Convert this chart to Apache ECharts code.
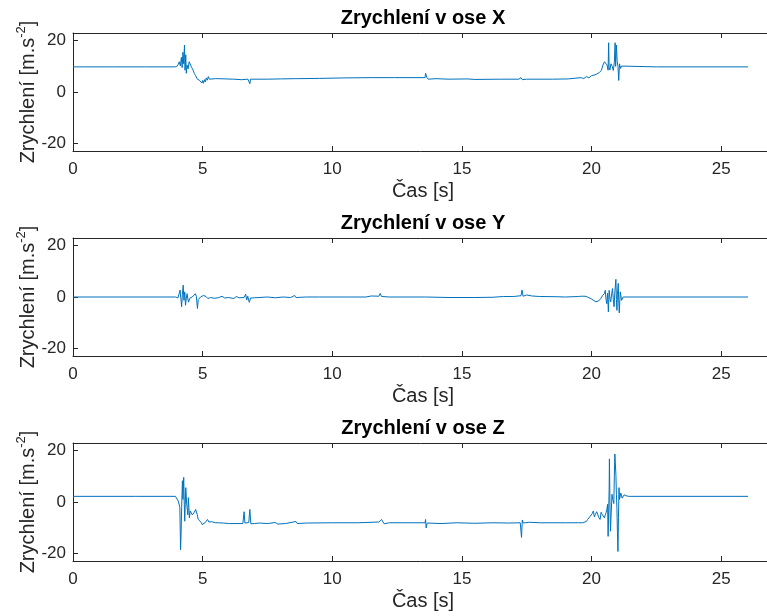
<!DOCTYPE html>
<html>
<head>
<meta charset="utf-8">
<script src="https://cdn.jsdelivr.net/npm/echarts@6/dist/echarts.min.js"></script>
<style>
  html, body { margin: 0; padding: 0; background: #fff; }
  #chart { width: 767px; height: 616px; }
</style>
</head>
<body>
<div id="chart"></div>
<script>
// time [s], acceleration [m.s^-2]
const accX = [
  [0, 9.8], [0.4, 9.8], [0.45, 9.5], [0.5, 9.8], [1.5, 9.8], [1.55, 9.5], [1.6, 9.8], [2.7, 9.8], [2.75, 9.6], [2.8, 9.8],
  [3.9, 9.8], [4.0, 9.9], [4.06, 10.8], [4.1, 11.8], [4.14, 10.2], [4.18, 13.5], [4.21, 9.5], [4.24, 15.5], [4.27, 11],
  [4.3, 18.3], [4.32, 8.5], [4.35, 14.5], [4.37, 7.3], [4.4, 10.5], [4.44, 9], [4.48, 11.8], [4.53, 11.2], [4.58, 9.5],
  [4.63, 8.6], [4.68, 7.2], [4.73, 6.4], [4.78, 5.2], [4.83, 5.6], [4.87, 4.6], [4.92, 4.2], [4.97, 3.5], [5.0, 4.5],
  [5.03, 3.4], [5.07, 4.8], [5.1, 3.9], [5.14, 5.5], [5.18, 4.6], [5.22, 6.0], [5.26, 5.0], [5.5, 5.2], [5.55, 4.8],
  [5.6, 5.2], [6.2, 5.0], [6.5, 4.8], [6.75, 5.0], [6.78, 5.6], [6.82, 3.2], [6.85, 5.0], [7.5, 5.0], [8.0, 5.1],
  [8.55, 5.2], [8.6, 4.7], [8.65, 5.2], [9.5, 5.3], [10.5, 5.5], [11.5, 5.6], [12.3, 5.6], [12.35, 5.2], [12.4, 5.6],
  [13.58, 5.6], [13.6, 7.3], [13.64, 5.8], [13.7, 5.0], [14.0, 5.2], [14.5, 5.0], [15.2, 5.1], [15.5, 4.9], [16.5, 5.0],
  [17.2, 5.0], [17.28, 5.6], [17.33, 4.8], [17.4, 5.4], [17.5, 5.0], [18.5, 5.0], [19.1, 5.1], [19.4, 5.4], [19.6, 5.6],
  [19.7, 5.2], [19.8, 6.0], [19.9, 5.5], [20.0, 6.4], [20.1, 6.6], [20.2, 7.0], [20.3, 7.6], [20.38, 8.4], [20.44, 10.5],
  [20.5, 11.8], [20.56, 11.2], [20.6, 10.5], [20.64, 8.5], [20.66, 19.2], [20.68, 9.5], [20.71, 8.6], [20.75, 11],
  [20.8, 10], [20.84, 8.4], [20.88, 11.5], [20.91, 19.2], [20.93, 10], [20.96, 18.3], [20.99, 12], [21.02, 10],
  [21.05, 4.5], [21.08, 11], [21.12, 9.2], [21.16, 10.1], [21.2, 9.8], [22.5, 9.8], [22.55, 9.5], [22.6, 9.8], [26.04, 9.8]
];

const accY = [
  [0, 0], [3.95, 0], [4.0, 0.6], [4.05, -0.3], [4.1, 1.5], [4.13, 2.7], [4.16, -0.5], [4.19, -3.8], [4.22, 1], [4.25, 4.6],
  [4.28, -1.3], [4.31, 2], [4.34, -3.2], [4.37, -0.5], [4.4, 1.3], [4.43, -0.8], [4.46, -2], [4.5, -0.5], [4.55, -0.6],
  [4.6, 0], [4.66, 0.3], [4.72, 1.3], [4.76, 0.2], [4.8, -4.5], [4.83, -1], [4.87, -0.6], [4.92, 0], [4.97, 0.2],
  [5.03, 0.6], [5.08, 1], [5.13, 0.2], [5.2, -0.6], [5.3, -0.2], [5.45, -0.5], [5.6, -0.3], [5.75, 0.3], [5.85, -0.4],
  [6.0, -0.2], [6.2, -0.6], [6.3, 0.2], [6.4, -0.3], [6.6, -0.2], [6.66, 1.1], [6.7, -1.2], [6.74, 0.3], [6.8, -2.1],
  [6.85, -0.4], [7.0, -0.3], [7.5, 0], [7.8, -0.3], [8.1, 0], [8.4, -0.2], [8.55, 0.6], [8.6, -0.2], [9.0, 0], [9.5, 0],
  [10.5, 0], [11.3, 0], [11.5, 0.4], [11.8, 0.3], [11.85, 1.4], [11.9, 0.2], [12.2, 0], [13.0, 0], [13.6, 0],
  [13.65, -0.4], [14.5, -0.2], [15.5, -0.2], [16.2, -0.1], [16.6, 0.2], [17.0, 0.2], [17.28, 0.5], [17.32, 2.7],
  [17.36, 0.3], [17.5, 0.8], [17.7, 0.4], [18.0, 0.2], [18.7, 0.1], [19.0, 0], [19.5, 0.2], [19.6, 0.3], [19.66, 0.6],
  [19.75, 0.3], [19.85, 0], [20.0, -0.8], [20.17, -1.9], [20.28, -1.5], [20.36, -0.5], [20.43, 0.6], [20.5, 1.4],
  [20.53, 2.6], [20.56, -1], [20.59, -2.6], [20.62, 1.5], [20.65, -5.8], [20.68, 2.6], [20.71, -0.5], [20.74, -1.9],
  [20.78, 1.5], [20.81, 3.3], [20.84, -1], [20.87, -3.8], [20.9, 2], [20.94, 6.9], [20.96, -1], [20.98, -5.2], [21.0, 1],
  [21.03, 5.3], [21.05, -1.5], [21.07, -6.2], [21.09, -2], [21.11, 2], [21.16, -1.3], [21.22, 0], [26.04, 0]
];

const accZ = [
  [0, 2.2], [2.4, 2.2], [2.45, 1.8], [2.5, 2.2], [3.95, 2.2], [4.0, 2.0], [4.06, 0.4], [4.1, -0.2], [4.12, -2],
  [4.15, -18.6], [4.17, -12], [4.19, -2.2], [4.22, 8.3], [4.24, 1], [4.27, 9.6], [4.29, 0], [4.31, -7.5], [4.33, -1],
  [4.35, 5.6], [4.38, 0], [4.4, -2.2], [4.43, -5], [4.45, 1.7], [4.49, -6.2], [4.52, -3.5], [4.55, -4.2], [4.6, -5],
  [4.64, -5.5], [4.68, -4], [4.73, -2.9], [4.76, -3.5], [4.79, -4.8], [4.83, -6.8], [4.87, -6.2], [4.9, -7.5],
  [4.95, -8], [4.98, -8.8], [5.03, -8.4], [5.09, -8.1], [5.14, -7.5], [5.19, -6.8], [5.24, -7.8], [5.28, -7.2],
  [5.35, -7.7], [5.41, -7.5], [5.5, -8.1], [5.6, -8.1], [5.8, -8.2], [6.0, -8.4], [6.55, -8.4], [6.6, -3.8],
  [6.63, -8.2], [6.7, -8.6], [6.78, -8.0], [6.82, -2.9], [6.86, -8.5], [7.0, -8.4], [7.2, -8.2], [7.5, -8.4],
  [7.8, -8.0], [7.9, -8.6], [8.2, -8.4], [8.6, -7.6], [8.65, -8.4], [9.0, -8.2], [10, -8.1], [11, -8.1], [11.8, -7.8],
  [11.9, -6.8], [12.0, -8.5], [12.2, -8.1], [13.0, -8.1], [13.58, -8.1], [13.6, -6.8], [13.62, -10.1], [13.66, -8.2],
  [14.2, -8.4], [14.8, -8.1], [15.5, -8.3], [16.2, -8.1], [16.8, -8.2], [17.25, -8.1], [17.3, -13.8], [17.33, -7.0],
  [17.37, -8.2], [17.6, -7.9], [18.0, -8.1], [19.0, -8.1], [19.5, -8.1], [19.66, -8.1], [19.72, -8.8], [19.8, -7.6],
  [19.85, -6.8], [19.93, -5.8], [19.98, -5.5], [20.03, -4.5], [20.07, -3.5], [20.11, -5.8], [20.15, -4.8], [20.2, -3.8],
  [20.24, -4.2], [20.28, -6], [20.33, -6.8], [20.37, -4], [20.41, -4.8], [20.46, -4.4], [20.5, -6.2], [20.53, -5],
  [20.56, -4.2], [20.59, -3], [20.62, -0.9], [20.64, -13.4], [20.66, -12.7], [20.68, 5], [20.69, 16.8], [20.71, 0],
  [20.73, -11.4], [20.76, -4], [20.79, 3], [20.82, 1], [20.86, -0.6], [20.88, 10], [20.9, 18.7], [20.92, 19.4],
  [20.94, 10.9], [20.96, 3], [20.98, -2.6], [21.0, -12], [21.02, -19.3], [21.04, -6], [21.06, 5.6], [21.08, 1],
  [21.1, 0.4], [21.13, 3.5], [21.15, 3], [21.18, 1.5], [21.21, 1.7], [21.26, 2.8], [21.34, 2.4], [21.45, 2.2], [26.04, 2.2]
];

const panelTitles = ['Zrychlení v ose X', 'Zrychlení v ose Y', 'Zrychlení v ose Z'];
const xTicks = [0, 5, 10, 15, 20, 25];
const yTicks = [-20, 0, 20];

const lineColor = '#0072bd';
const axisColor = '#262626';
const font = 'Liberation Sans';
const gridTops = [33, 238, 443];
const gridHeight = 118;

const chart = echarts.init(document.getElementById('chart'), null, { renderer: 'canvas' });

const series = [accX, accY, accZ];
const grids = [];
const titles = [];
const xAxes = [];
const yAxes = [];

gridTops.forEach((top, i) => {
  // the plot box runs a few pixels past the right edge, so no auto fitting
  grids.push({ left: 73, right: -6, top, height: gridHeight, outerBoundsMode: 'none', containLabel: false });
  titles.push({
    text: panelTitles[i],
    left: 423,
    top: top - 25,
    padding: 0,
    textAlign: 'center',
    textStyle: { fontFamily: font, fontSize: 20, fontWeight: 'bold', color: '#000' }
  });
  xAxes.push({
    gridIndex: i,
    type: 'value',
    min: 0,
    max: 27,
    position: 'bottom',
    name: 'Čas [s]',
    nameLocation: 'middle',
    nameGap: 30,
    nameMoveOverlap: false,
    nameTextStyle: { fontFamily: font, fontSize: 20, color: axisColor },
    axisLine: { onZero: false, lineStyle: { color: axisColor, width: 1 } },
    axisTick: { inside: true, length: 5, customValues: xTicks, lineStyle: { color: axisColor } },
    axisLabel: { customValues: xTicks, margin: 10, fontFamily: font, fontSize: 17, color: axisColor },
    splitLine: { show: false }
  });
  xAxes.push({
    gridIndex: i,
    type: 'value',
    min: 0,
    max: 27,
    position: 'top',
    axisLine: { onZero: false, lineStyle: { color: axisColor, width: 1 } },
    axisTick: { inside: true, length: 5, customValues: xTicks, lineStyle: { color: axisColor } },
    axisLabel: { show: false },
    splitLine: { show: false }
  });
  yAxes.push({
    gridIndex: i,
    type: 'value',
    min: -23,
    max: 23,
    name: 'Zrychlení [m.s{sup|-2}]',
    nameLocation: 'middle',
    nameGap: 32,
    nameMoveOverlap: false,
    nameTextStyle: {
      fontFamily: font, fontSize: 20, lineHeight: 26, color: axisColor,
      rich: { sup: { fontFamily: font, fontSize: 13, lineHeight: 13, color: axisColor, verticalAlign: 'top' } }
    },
    axisLine: { show: true, onZero: false, lineStyle: { color: axisColor, width: 1 } },
    axisTick: { show: true, inside: true, length: 5, customValues: yTicks, lineStyle: { color: axisColor } },
    axisLabel: { customValues: yTicks, margin: 7, fontFamily: font, fontSize: 17, color: axisColor },
    splitLine: { show: false }
  });
});

chart.setOption({
  animation: false,
  backgroundColor: '#fff',
  title: titles,
  grid: grids,
  xAxis: xAxes,
  yAxis: yAxes,
  series: series.map((data, i) => ({
    type: 'line',
    xAxisIndex: i * 2,
    yAxisIndex: i,
    data,
    showSymbol: false,
    symbol: 'none',
    lineStyle: { color: lineColor, width: 1 },
    itemStyle: { color: lineColor }
  }))
});
</script>
</body>
</html>
